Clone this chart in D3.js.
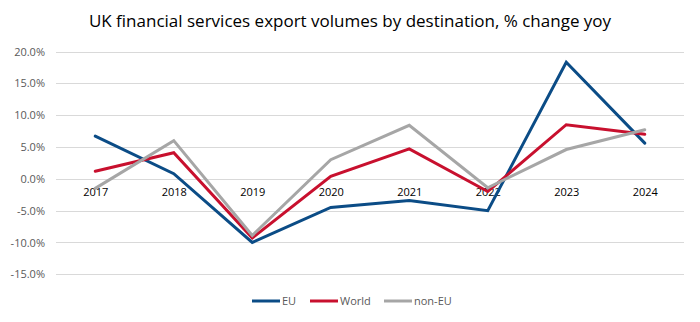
<!DOCTYPE html>
<html>
<head>
<meta charset="utf-8">
<script src="https://cdn.jsdelivr.net/npm/d3@7"></script>
<style>
  body { margin: 0; background: #fff; }
  svg { display: block; font-family: "Open Sans", sans-serif; }
</style>
</head>
<body>
<div id="chart"></div>
<script>
const years = ["2017", "2018", "2019", "2020", "2021", "2022", "2023", "2024"];
const euValues = [6.7, 0.8, -10.0, -4.5, -3.4, -5.0, 18.3, 5.6];
const worldValues = [1.2, 4.1, -9.3, 0.4, 4.7, -2.0, 8.5, 7.0];
const nonEuValues = [-1.5, 6.0, -8.9, 3.0, 8.4, -1.4, 4.6, 7.7];
const yTicks = [-15, -10, -5, 0, 5, 10, 15, 20];

const series = [
  { name: "EU", values: euValues, color: "#0b4c86" },
  { name: "World", values: worldValues, color: "#c8102e" },
  { name: "non-EU", values: nonEuValues, color: "#a6a6a6" }
];

const width = 700, height = 322;
const margin = { top: 51.5, right: 16, bottom: 48, left: 56 };

const svg = d3.select("#chart").append("svg")
  .attr("width", width)
  .attr("height", height);

const x = d3.scalePoint()
  .domain(years)
  .range([margin.left, width - margin.right])
  .padding(0.5);

const y = d3.scaleLinear()
  .domain([-15, 20])
  .range([height - margin.bottom + 0.3, margin.top]);

// title
svg.append("text")
  .attr("x", 350)
  .attr("y", 27)
  .attr("text-anchor", "middle")
  .attr("font-size", 17)
  .attr("fill", "#000")
  .text("UK financial services export volumes by destination, % change yoy");

// gridlines
svg.append("g")
  .selectAll("line")
  .data(yTicks)
  .join("line")
  .attr("x1", margin.left)
  .attr("x2", width - margin.right)
  .attr("y1", d => Math.round(y(d)) + 0.5)
  .attr("y2", d => Math.round(y(d)) + 0.5)
  .attr("stroke", "#d9d9d9")
  .attr("stroke-width", 1);

// y axis labels
const yAxis = d3.axisLeft(y)
  .tickValues(yTicks)
  .tickSize(0)
  .tickPadding(0)
  .tickFormat(d => d.toFixed(1) + "%");

svg.append("g")
  .attr("transform", `translate(${margin.left - 11},0)`)
  .call(yAxis)
  .call(g => g.select(".domain").remove())
  .call(g => g.selectAll("text")
    .attr("font-family", "Open Sans, sans-serif")
    .attr("font-size", 11)
    .attr("fill", "#595959"));

// category labels sit just below the zero line
const xAxis = d3.axisBottom(x).tickSize(0).tickPadding(0);

svg.append("g")
  .attr("transform", `translate(0,${y(0) + 9})`)
  .call(xAxis)
  .call(g => g.select(".domain").remove())
  .call(g => g.selectAll("text")
    .attr("font-family", "Open Sans, sans-serif")
    .attr("font-size", 11)
    .attr("fill", "#000"));

// series lines
const line = d3.line()
  .x((d, i) => x(years[i]))
  .y(d => y(d));

svg.append("g")
  .selectAll("path")
  .data(series)
  .join("path")
  .attr("d", d => line(d.values))
  .attr("fill", "none")
  .attr("stroke", d => d.color)
  .attr("stroke-width", 3)
  .attr("stroke-linejoin", "miter")
  .attr("stroke-linecap", "round");

// legend
const legendX = [252, 310, 384];
const legend = svg.append("g")
  .selectAll("g")
  .data(series)
  .join("g")
  .attr("transform", (d, i) => `translate(${legendX[i]},301)`);

legend.append("line")
  .attr("x1", 0)
  .attr("x2", 28)
  .attr("stroke", d => d.color)
  .attr("stroke-width", 3);

legend.append("text")
  .attr("x", 30)
  .attr("y", 4)
  .attr("font-size", 11)
  .attr("fill", "#595959")
  .text(d => d.name);
</script>
</body>
</html>
